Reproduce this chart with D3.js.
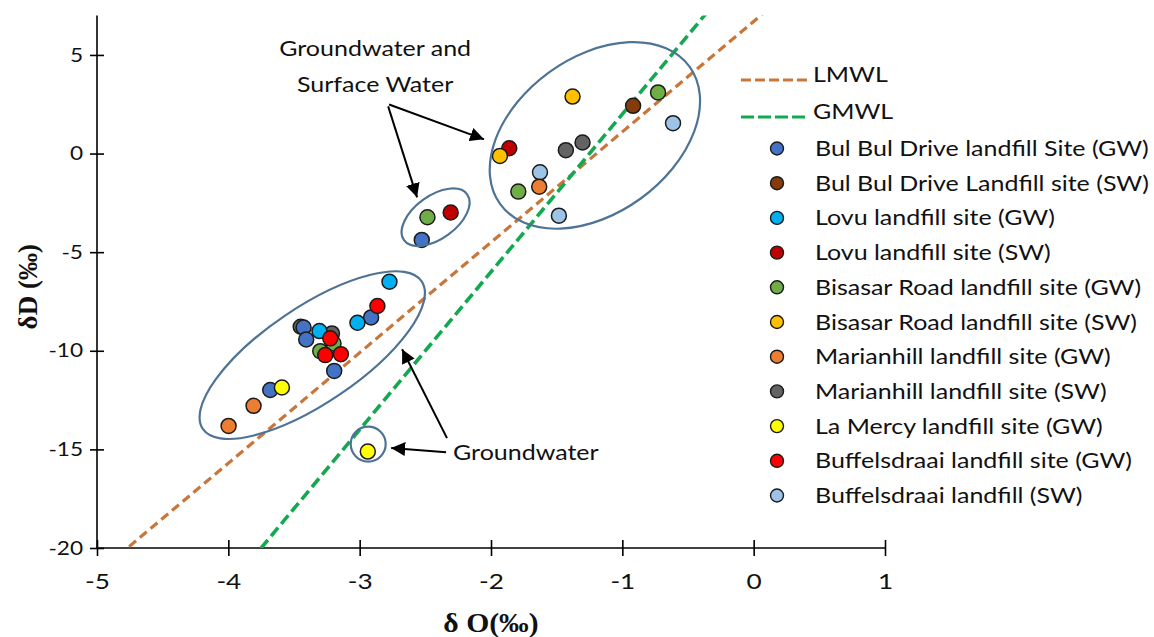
<!DOCTYPE html>
<html>
<head>
<meta charset="utf-8">
<script src="https://cdn.jsdelivr.net/npm/d3@7"></script>
<style>
  body { margin: 0; background: #fff; }
  svg { display: block; }
</style>
</head>
<body>
<svg id="chart" width="1154" height="637"></svg>
<script>
// ---- Sample values: [δ18O, δD] in per mil ----
const bulbulGW   = [[-2.527, -4.38], [-2.913, -8.31], [-3.427, -8.82], [-3.407, -9.43], [-3.194, -11.02], [-3.681, -11.99]];
const bulbulSW   = [[-0.918, 2.42]];
const lovuGW     = [[-2.773, -6.50], [-3.017, -8.58], [-3.306, -9.00]];
const lovuSW     = [[-1.861, 0.27], [-2.307, -2.99]];
const bisasarGW  = [[-0.728, 3.10], [-1.792, -1.93], [-2.484, -3.23], [-3.300, -10.02], [-3.199, -9.63]];
const bisasarSW  = [[-1.379, 2.89], [-1.932, -0.12]];
const marianGW   = [[-1.633, -1.68], [-3.808, -12.79], [-3.998, -13.81]];
const marianSW   = [[-1.430, 0.17], [-1.303, 0.56], [-3.449, -8.78], [-3.211, -9.12]];
const laMercyGW  = [[-3.592, -11.86], [-2.938, -15.11]];
const buffelsGW  = [[-2.865, -7.73], [-3.224, -9.37], [-3.262, -10.22], [-3.143, -10.17]];
const buffelsSW  = [[-0.614, 1.54], [-1.627, -0.95], [-1.483, -3.15]];

const seriesNames = [
  "Bul Bul Drive landfill Site (GW)",
  "Bul Bul Drive Landfill site (SW)",
  "Lovu landfill site (GW)",
  "Lovu landfill site (SW)",
  "Bisasar Road landfill site (GW)",
  "Bisasar Road landfill site (SW)",
  "Marianhill landfill site (GW)",
  "Marianhill landfill site (SW)",
  "La Mercy landfill site (GW)",
  "Buffelsdraai landfill site (GW)",
  "Buffelsdraai landfill (SW)"
];
const seriesValues = [bulbulGW, bulbulSW, lovuGW, lovuSW, bisasarGW, bisasarSW,
                      marianGW, marianSW, laMercyGW, buffelsGW, buffelsSW];
const seriesColors = ["#4472C4", "#843C0C", "#00B0F0", "#C00000", "#70AD47", "#FFC000",
                      "#ED7D31", "#636363", "#FFFF00", "#FF0000", "#9DC3E6"];
// painting order of the series (index into the arrays above)
const drawOrder = [10, 7, 0, 1, 2, 3, 4, 5, 6, 8, 9];

// Meteoric water lines: δD = slope * δ18O + intercept
const lineNames      = ["LMWL", "GMWL"];
const lineSlopes     = [5.6, 8];
const lineIntercepts = [6.7, 10];
const lineColors     = ["#C8763A", "#14A850"];

const xTicks = [-5, -4, -3, -2, -1, 0, 1];
const yTicks = [-20, -15, -10, -5, 0, 5];
const xDomain = [-5, 1];
const yDomain = [-20, 7];

// Annotation shapes: centre in data units, radii in px, rotation in degrees
const groupEllipses = [
  { cx: -3.361, cy: -10.22, rx: 132, ry: 48, rot: -34 },
  { cx: -1.209, cy: 0.92,   rx: 117, ry: 78, rot: -36 },
  { cx: -2.422, cy: -3.23,  rx: 39,  ry: 21.5, rot: -36 },
  { cx: -2.935, cy: -14.73, rx: 17.5, ry: 17.5, rot: 0 }
];
const arrows = [
  { from: [-2.776, 2.49],   to: [-2.053, 0.72] },
  { from: [-2.783, 2.39],   to: [-2.563, -2.22] },
  { from: [-2.335, -14.43], to: [-2.677, -9.92] },
  { from: [-2.342, -15.14], to: [-2.760, -14.93] }
];
const notes = [
  { text: "Groundwater and", x: -2.882, y: 4.97,   anchor: "middle" },
  { text: "Surface Water",   x: -2.882, y: 3.10,   anchor: "middle" },
  { text: "Groundwater",     x: -2.289, y: -15.54, anchor: "start" }
];

// ---- Layout ----
const svg = d3.select("#chart");
const plotLeft = 97, plotRight = 885, plotTop = 15.5, plotBottom = 548;
const sans = "Lato, 'Open Sans', sans-serif";
const serif = "'Liberation Serif', 'DejaVu Serif', serif";
const sansWiden = 1.19;   // the sans labels are set a little wide

// widen a text selection horizontally by a factor, keeping its anchor
function widen(sel, k) {
  sel.each(function () {
    const len = this.getComputedTextLength();
    d3.select(this).attr("textLength", len * k).attr("lengthAdjust", "spacingAndGlyphs");
  });
}

const x = d3.scaleLinear().domain(xDomain).range([plotLeft, plotRight]);
const y = d3.scaleLinear().domain(yDomain).range([plotBottom, plotTop]);

const defs = svg.append("defs");
defs.append("clipPath").attr("id", "plotClip")
  .append("rect")
  .attr("x", x(xDomain[0])).attr("y", y(yDomain[1]))
  .attr("width", x(xDomain[1]) - x(xDomain[0]))
  .attr("height", y(yDomain[0]) - y(yDomain[1]));

defs.append("marker")
  .attr("id", "head")
  .attr("viewBox", "0 0 10 10")
  .attr("refX", 10).attr("refY", 5)
  .attr("markerWidth", 7).attr("markerHeight", 7)
  .attr("markerUnits", "strokeWidth")
  .attr("orient", "auto")
  .append("path").attr("d", "M0,0 L10,5 L0,10 Z").attr("fill", "#000");

// ---- Axes ----
const fmt = d => String(d);
const yAxis = svg.append("g")
  .attr("transform", `translate(${x(xDomain[0])},0)`)
  .call(d3.axisLeft(y).tickValues(yTicks).tickFormat(fmt).tickSize(7).tickPadding(8).tickSizeOuter(0));
yAxis.select(".domain").attr("d", `M0,${y(yDomain[0])}V${y(yDomain[1])}`).attr("stroke", "#000").attr("stroke-width", 1.6);
yAxis.selectAll(".tick line").attr("x1", 7).attr("x2", -7).attr("stroke-width", 1.6);
yAxis.selectAll(".tick text").attr("font-family", sans).attr("font-size", 19).attr("fill", "#111").attr("x", -14)
  .call(widen, sansWiden);

const xAxis = svg.append("g")
  .attr("transform", `translate(0,${y(yDomain[0])})`)
  .call(d3.axisBottom(x).tickValues(xTicks).tickFormat(fmt).tickSize(8).tickPadding(10).tickSizeOuter(0));
xAxis.select(".domain").attr("d", `M${x(xDomain[0])},0H${x(xDomain[1])}`).attr("stroke", "#000").attr("stroke-width", 1.6);
xAxis.selectAll(".tick line").attr("y1", -8).attr("y2", 8).attr("stroke-width", 1.6);
xAxis.selectAll(".tick text").attr("font-family", sans).attr("font-size", 22).attr("fill", "#111").attr("y", 25)
  .call(widen, sansWiden);

// Axis titles
svg.append("text")
  .attr("transform", `translate(37,${(plotTop + plotBottom) / 2 + 5}) rotate(-90)`)
  .attr("text-anchor", "middle")
  .attr("font-family", serif).attr("font-weight", "bold").attr("font-size", 27)
  .attr("fill", "#111")
  .text("δD (‰)");
svg.append("text")
  .attr("x", x(-2)).attr("y", 632)
  .attr("text-anchor", "middle")
  .attr("font-family", serif).attr("font-weight", "bold").attr("font-size", 28)
  .attr("fill", "#111")
  .text("δ O(‰)")
  .call(widen, 1.06);

// ---- Meteoric water lines ----
const plot = svg.append("g").attr("clip-path", "url(#plotClip)");
lineNames.forEach((name, i) => {
  const f = v => lineSlopes[i] * v + lineIntercepts[i];
  plot.append("line")
    .attr("x1", x(xDomain[0])).attr("y1", y(f(xDomain[0])))
    .attr("x2", x(xDomain[1])).attr("y2", y(f(xDomain[1])))
    .attr("stroke", lineColors[i])
    .attr("stroke-width", i === 0 ? 3.2 : 3.6)
    .attr("stroke-dasharray", i === 0 ? "9,5" : "11,5");
});

// ---- Points ----
drawOrder.forEach(si => {
  plot.append("g").selectAll("circle")
    .data(seriesValues[si])
    .join("circle")
    .attr("cx", d => x(d[0]))
    .attr("cy", d => y(d[1]))
    .attr("r", 7.5)
    .attr("fill", seriesColors[si])
    .attr("stroke", "#1b1b1b")
    .attr("stroke-width", 1.5);
});

// ---- Annotations ----
const ann = svg.append("g");
ann.selectAll("ellipse")
  .data(groupEllipses)
  .join("ellipse")
  .attr("transform", d => `translate(${x(d.cx)},${y(d.cy)}) rotate(${d.rot})`)
  .attr("rx", d => d.rx).attr("ry", d => d.ry)
  .attr("fill", "none").attr("stroke", "#4E7394").attr("stroke-width", 2.2);

ann.selectAll("line.arrow")
  .data(arrows)
  .join("line")
  .attr("class", "arrow")
  .attr("x1", d => x(d.from[0])).attr("y1", d => y(d.from[1]))
  .attr("x2", d => x(d.to[0])).attr("y2", d => y(d.to[1]))
  .attr("stroke", "#000").attr("stroke-width", 2)
  .attr("marker-end", "url(#head)");

ann.selectAll("text")
  .data(notes)
  .join("text")
  .attr("x", d => x(d.x)).attr("y", d => y(d.y))
  .attr("text-anchor", d => d.anchor)
  .attr("font-family", sans).attr("font-size", 21).attr("fill", "#111")
  .text(d => d.text)
  .call(widen, sansWiden);

// ---- Legend ----
const legend = svg.append("g");
lineNames.forEach((name, i) => {
  const ly = 80 + i * 37;
  legend.append("line")
    .attr("x1", 741).attr("x2", 808).attr("y1", ly).attr("y2", ly)
    .attr("stroke", lineColors[i]).attr("stroke-width", 3.2)
    .attr("stroke-dasharray", i === 0 ? "10,4" : "13,4");
  legend.append("text")
    .attr("x", 813).attr("y", ly + 2)
    .attr("font-family", sans).attr("font-size", 21).attr("fill", "#111")
    .text(name)
    .call(widen, sansWiden);
});
seriesNames.forEach((name, i) => {
  const ly = 148.5 + i * 34.7;
  legend.append("circle")
    .attr("cx", 777).attr("cy", ly).attr("r", 6.5)
    .attr("fill", seriesColors[i]).attr("stroke", "#1b1b1b").attr("stroke-width", 1.4);
  legend.append("text")
    .attr("x", 815).attr("y", ly + 7.5)
    .attr("font-family", sans).attr("font-size", 21).attr("fill", "#111")
    .text(name)
    .call(widen, sansWiden);
});
</script>
</body>
</html>
